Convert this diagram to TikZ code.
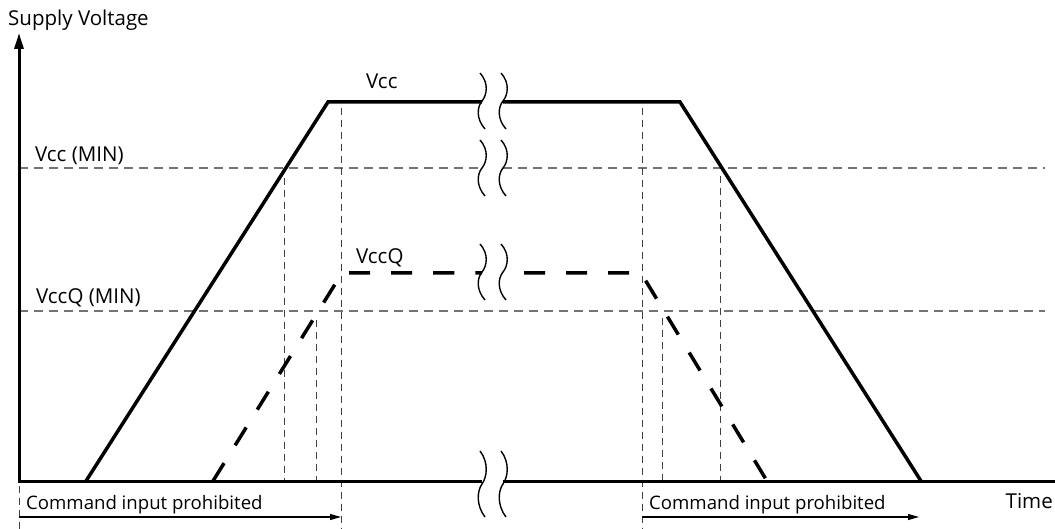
\documentclass[tikz,border=0pt]{standalone}
\usepackage{fontspec}
\setmainfont{Open Sans}
\usetikzlibrary{arrows.meta}
\begin{document}
\begin{tikzpicture}[x=1pt,y=-1pt,
  thickline/.style={line width=3.5pt, line join=miter},
  thickdash/.style={line width=3.5pt, dash pattern=on 21pt off 21pt},
  axisline/.style={line width=3pt},
  guideh/.style={line width=1.1pt, draw=black!55, dash pattern=on 9pt off 6pt},
  guidev/.style={line width=1pt, draw=black!75, dash pattern=on 7pt off 5pt},
  brk/.style={line width=1.4pt},
  lbl/.style={anchor=base west, inner sep=0pt, font=\fontsize{20.5}{24}\selectfont},
  cmdlbl/.style={anchor=base west, inner sep=0pt, font=\fontsize{18.6}{22}\selectfont},
  spanarrow/.style={line width=1.2pt, -{Triangle[length=11pt,width=6pt]}}
]
\useasboundingbox (0,0) rectangle (1055,529);

% horizontal guide lines
\draw[guideh] (19,168) -- (482,168);
\draw[guideh] (503,168) -- (1045,168);
\draw[guideh] (19,311) -- (1045,311);

% vertical guide lines
\draw[guidev] (284,178) -- (284,481);
\draw[guidev] (316,320) -- (316,481);
\draw[guidev] (341,108) -- (341,529);
\draw[guidev] (642,108) -- (642,529);
\draw[guidev] (662,318) -- (662,481);
\draw[guidev] (720,176) -- (720,481);
\draw[guidev] (19,486) -- (19,529);

% Vcc curve
\draw[thickline] (86,481) -- (328,102) -- (482,102);
\draw[thickline] (503,102) -- (680,102) -- (921,481);

% VccQ curve
\draw[thickdash] (213,481) -- (342,273) -- (482,273);
\draw[thickdash, dash phase=21pt] (503,273) -- (641,273) -- (767,481);

% axes
\draw[axisline] (19,481) -- (482,481);
\draw[axisline] (503,481) -- (1055,481);
\draw[axisline, -{Triangle[length=16pt,width=9pt]}] (19,482.5) -- (19,33);

% break marks
\foreach \cx in {482,503}{
  \foreach \cy in {101,168,272}{
    \draw[brk, shift={(\cx,\cy)}] (-2,-28) .. controls (7,-18) and (5,-6) .. (0,0)
      .. controls (-5,6) and (-6,18) .. (3,28);
  }
  \draw[brk, shift={(\cx,484)}, yscale=1.18] (-2,-28) .. controls (7,-18) and (5,-6) .. (0,0)
      .. controls (-5,6) and (-6,18) .. (3,28);
}

% span arrows
\coordinate (la) at (19,517);
\coordinate (lb) at (341,517);
\coordinate (ra) at (642,517);
\coordinate (rb) at (919,517);
\draw[spanarrow] (la) -- (lb);
\draw[spanarrow] (ra) -- (rb);

% labels
\node[lbl] (sv) at (8,26) {Supply Voltage};
\node[lbl] (vmin) at (35,162) {Vcc (MIN)};
\node[lbl] (vqmin) at (36,304) {VccQ (MIN)};
\node[lbl] (vcc) at (366,89) {Vcc};
\node[lbl] (vccq) at (356,264) {VccQ};
\node[cmdlbl] (cl) at (26,509) {Command input prohibited};
\node[cmdlbl] (cr) at (649,509) {Command input prohibited};
\node[lbl, anchor=base east] (tm) at (1053,508) {Time};
\end{tikzpicture}
\end{document}
